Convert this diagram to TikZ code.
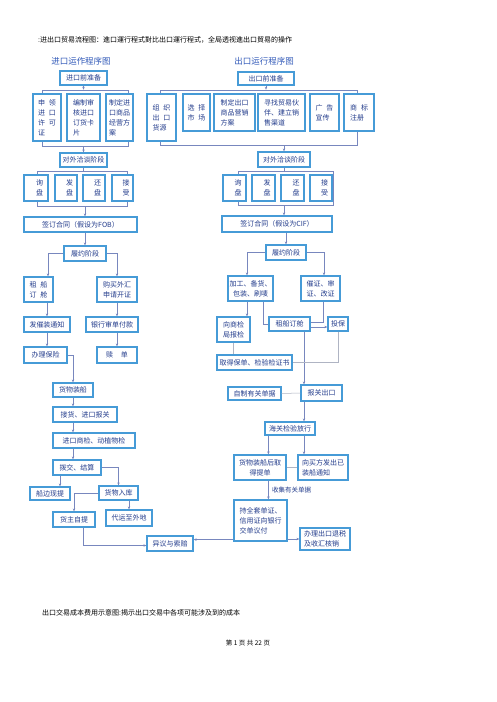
\documentclass[tikz,border=0pt]{standalone}
\usepackage{fontspec}
\newfontfamily\cjk{Noto Sans CJK SC}
\usetikzlibrary{arrows.meta}
\definecolor{bxc}{RGB}{70,155,215}
\definecolor{txc}{RGB}{35,60,140}
\definecolor{lnc}{RGB}{120,135,190}
\definecolor{gry}{RGB}{175,180,195}
\definecolor{ttl}{RGB}{50,90,185}
\newcommand\bx[7][]{\node[box,#1,minimum width={(#5-#3)*1pt},minimum height={(#6-#4)*1pt}] (#2) at ({(#3+#5)/2},{(#4+#6)/2}) {#7};}
\newcommand\brkt[5]{\node[brk,minimum width={(#4-#2)*1pt},minimum height={(#5-#3)*1pt}] (#1) at ({(#2+#4)/2},{(#3+#5)/2}) {};}
\begin{document}
\begin{tikzpicture}[x=1pt,y=-1pt,
 box/.style={draw=bxc,line width=1.2pt,fill=white,text=txc,font=\cjk\fontsize{7}{10}\selectfont,align=center,inner sep=0.5pt},
 brk/.style={draw=lnc,line width=0.5pt,rectangle,inner sep=0pt},
 arr/.style={draw=lnc,line width=0.5pt,-{Stealth[length=3pt,width=2.4pt]}},
 ln/.style={draw=lnc,line width=0.5pt},
 gl/.style={draw=gry,line width=0.5pt},
 pz/.style={text width=14pt,align=right},
 ttlf/.style={text=ttl,font=\cjk\fontsize{8.5}{10}\selectfont,inner sep=0pt},
 plain/.style={text=black,font=\cjk\fontsize{7}{9}\selectfont,inner sep=0pt}]
\useasboundingbox (0,0) rectangle (496,702);
\fill[white] (0,0) rectangle (496,702);

\node[plain,anchor=west] (top) at (38,40) {:进出口贸易流程图：進口運行程式對比出口運行程式，全局透视進出口貿易的操作};
\node[ttlf] (Ltitle) at (81,61) {进口运作程序图};
\node[ttlf] (Rtitle) at (264,61) {出口运行程序图};

% brackets
\brkt{BL1}{42}{90}{128}{146}
\brkt{BL2}{37}{171}{127}{206}
\brkt{BR1}{160}{90}{357}{145}
\brkt{BR2}{238}{171}{333}{205}

% left column
\bx{L0}{60}{71}{107}{85}{进口前准备}
\bx[align=left]{L1a}{33}{94}{61}{141}{申\hspace{4pt}领\\进\hspace{4pt}口\\许\hspace{4pt}可\\证}
\bx[align=left]{L1b}{67}{94}{100}{141}{编制审\\核进口\\订货卡\\片}
\bx[align=left]{L1c}{106}{94}{133}{141}{制定进\\口商品\\经营方\\案}
\bx{L2}{60}{153}{107}{167}{对外洽谈阶段}
\bx[pz]{L3a}{24}{175}{48}{201}{询\\盘}
\bx[pz]{L3b}{55}{175}{77}{201}{发\\盘}
\bx[pz]{L3c}{83}{175}{105}{201}{还\\盘}
\bx[pz]{L3d}{112}{175}{133}{201}{接\\受}
\bx{L4}{24}{217}{137}{232}{签订合同（假设为FOB）}
\bx{L5}{64}{246}{106}{261}{履约阶段}
\bx{L6a}{24}{277}{53}{302}{租\hspace{4pt}船\\订\hspace{4pt}舱}
\bx{L6b}{97}{277}{137}{302}{购买外汇\\申请开证}
\bx{L7a}{24}{317}{70}{332}{发催装通知}
\bx{L7b}{86}{317}{138}{332}{银行审单付款}
\bx{L8a}{24}{347}{67}{363}{办理保险}
\bx{L8b}{97}{347}{137}{363}{赎\hspace{8pt}单}
\bx{L9}{53}{383}{93}{397}{货物装船}
\bx{L10}{53}{407}{117}{422}{接货、进口报关}
\bx{L11}{53}{433}{135}{448}{进口商检、动植物检}
\bx{L12}{53}{460}{101}{475}{拨交、结算}
\bx{L13a}{30}{487}{70}{500}{船边现提}
\bx{L13b}{99}{486}{138}{500}{货物入库}
\bx{L14a}{53}{512}{95}{527}{货主自提}
\bx{L14b}{106}{510}{152}{526}{代运至外地}
\bx{X}{147}{536}{193}{551}{异议与索赔}

% right column
\bx{R0}{238}{72}{294}{85}{出口前准备}
\bx[align=left]{R1a}{147}{94}{176}{141}{组\hspace{4pt}织\\出\hspace{4pt}口\\货源}
\bx[align=left]{R1b}{183}{94}{210}{131}{选\hspace{4pt}择\\市\hspace{4pt}场}
\bx[align=left]{R1c}{214}{94}{255}{131}{制定出口\\商品营销\\方案}
\bx[align=left]{R1d}{258}{94}{305}{131}{寻找贸易伙\\伴、建立销\\售渠道}
\bx[align=left]{R1e}{310}{94}{339}{131}{广\hspace{4pt}告\\宣传}
\bx[align=left]{R1f}{344}{94}{374}{131}{商\hspace{4pt}标\\注册}
\bx{R2}{258}{152}{310}{167}{对外洽谈阶段}
\bx[pz]{R3a}{223}{175}{246}{201}{询\\盘}
\bx[pz]{R3b}{252}{175}{275}{201}{发\\盘}
\bx[pz]{R3c}{281}{175}{304}{201}{还\\盘}
\bx[pz]{R3d}{310}{175}{332}{201}{接\\受}
\bx{R4}{222}{216}{332}{232}{签订合同（假设为CIF）}
\bx{R5}{266}{245}{306}{260}{履约阶段}
\bx{R6a}{228}{276}{273}{301}{加工、备货、\\包装、刷唛}
\bx{R6b}{301}{276}{340}{301}{催证、审\\证、改证}
\bx{R7a}{217}{317}{250}{342}{向商检\\局报检}
\bx{R7b}{269}{317}{310}{331}{租船订舱}
\bx{R7c}{328}{317}{348}{331}{投保}
\bx{R8}{217}{355}{292}{370}{取得保单、检验检证书}
\bx{R9a}{228}{387}{281}{400}{自制有关单据}
\bx{R9b}{301}{385}{342}{401}{报关出口}
\bx{R10}{265}{422}{315}{435}{海关检验放行}
\bx{R11a}{234}{455}{286}{480}{货物装船后取\\得提单}
\bx[align=left]{R11b}{298}{455}{348}{480}{向买方发出已\\装船通知}
\bx[align=left]{R12}{234}{500}{287}{541}{持全套单证、\\信用证向银行\\交单议付}
\bx[align=left]{R13}{300}{528}{350}{550}{办理出口退税\\及收汇核销}

% left connectors
\draw[arr] (L0.south) -- (L0 |- BL1.north);
\draw[arr] (L2 |- BL1.south) -- (L2.north);
\draw[ln] (L2.south) -- (L2 |- BL2.north);
\draw[arr] (L5 |- BL2.south) -- (L5 |- L4.north);
\draw[arr] (L5 |- L4.south) -- (L5.north);
\draw[arr] (L5.west) -| ([xshift=9.5pt]L6a.north);
\draw[arr] (L5.east) -| (L6b.north);
\draw[arr] (L7a.north |- L6a.south) -- (L7a.north);
\draw[arr] (L7a.south) -- (L7a.south |- L8a.north);
\draw[arr] (L6b.south) -- (L6b.south |- L7b.north);
\draw[arr] (L8b.north |- L7b.south) -- (L8b.north);
\draw[arr] (L8a.east) -| (L9.north);
\draw[arr] (L9.south) -- (L9.south |- L10.north);
\draw[arr] (L9.south |- L10.south) -- (L9.south |- L11.north);
\draw[arr] (L9.south |- L11.south) -- (L9.south |- L12.north);
\coordinate (b1) at ([xshift=-17pt]L12.south);
\draw[arr] (b1) -- (b1 |- L13a.north);
\draw[arr] (L12.east) -| (L13b.north);
\draw[arr] (L14b.north |- L13b.south) -- (L14b.north);
\draw[arr] (L13b.west) -| (L14a.north);
\coordinate (b2) at ([xshift=9pt]L14a.south);
\draw[arr] (b2) |- ([yshift=-2pt]X.west);
\coordinate (k1) at ([yshift=2pt]R12.south west);
\draw[arr] (k1) -- (k1 -| X.east);

% right connectors
\draw[arr] (R0.south) -- (R0 |- BR1.north);
\draw[arr] (R2 |- BR1.south) -- (R2.north);
\draw[ln] (R2.south) -- (R2 |- BR2.north);
\draw[arr] (R2 |- BR2.south) -- (R2 |- R4.north);
\draw[arr] (R5 |- R4.south) -- (R5.north);
\draw[arr] (R5.west) -| ([xshift=-3.5pt]R6a.north);
\draw[arr] (R5.east) -| ([xshift=3.5pt]R6b.north);
\coordinate (a1) at ([xshift=-3.5pt]R6a.south);
\draw[arr] (a1) -- (a1 |- R7a.north);
\coordinate (a2) at ([xshift=12.5pt]R6a.south);
\draw[ln] (a2) |- (R7b.west);
\coordinate (a3) at ([xshift=2.5pt]R6b.south);
\draw[ln] (a3) |- ([yshift=2pt]R7b.east);
\coordinate (a4) at ([yshift=-3pt]R7b.east);
\draw[arr] (a4) -- (a4 -| R7c.west);
\coordinate (a5) at ([xshift=14.5pt]R7b.south);
\draw[arr] (a5) -- (a5 |- R9b.north);
\draw[gl] (R7a.south) -- (R7a.south |- R8.north);
\draw[gl] (R7c.south) |- (R8.east);
\draw[gl] (R9a.east) -- (R9b.west);
\draw[arr] (a5 |- R9b.south) -- (a5 |- R10.north);
\coordinate (a6) at ([xshift=4pt]R10.south west);
\draw[arr] (a6) -- (a6 |- R11a.north);
\draw[arr] (a5 |- R10.south) -- (a5 |- R11b.north);
\draw[gl] (R11a.east) -- (R11b.west);
\draw[arr] (a6 |- R11a.south) -- (a6 |- R12.north);
\node[text=txc,font=\cjk\fontsize{6.5}{8}\selectfont,inner sep=0pt,anchor=west] (lab) at (272,490) {收集有关单据};
\draw[arr] (R12.east |- R13) -- (R13.west);

\node[plain,anchor=west] (bottom) at (42,613) {出口交易成本费用示意图:揭示出口交易中各项可能涉及到的成本};
\node[plain,font=\cjk\fontsize{6.5}{8}\selectfont] (page) at (248,643) {第 1 页 共 22 页};
\end{tikzpicture}
\end{document}
